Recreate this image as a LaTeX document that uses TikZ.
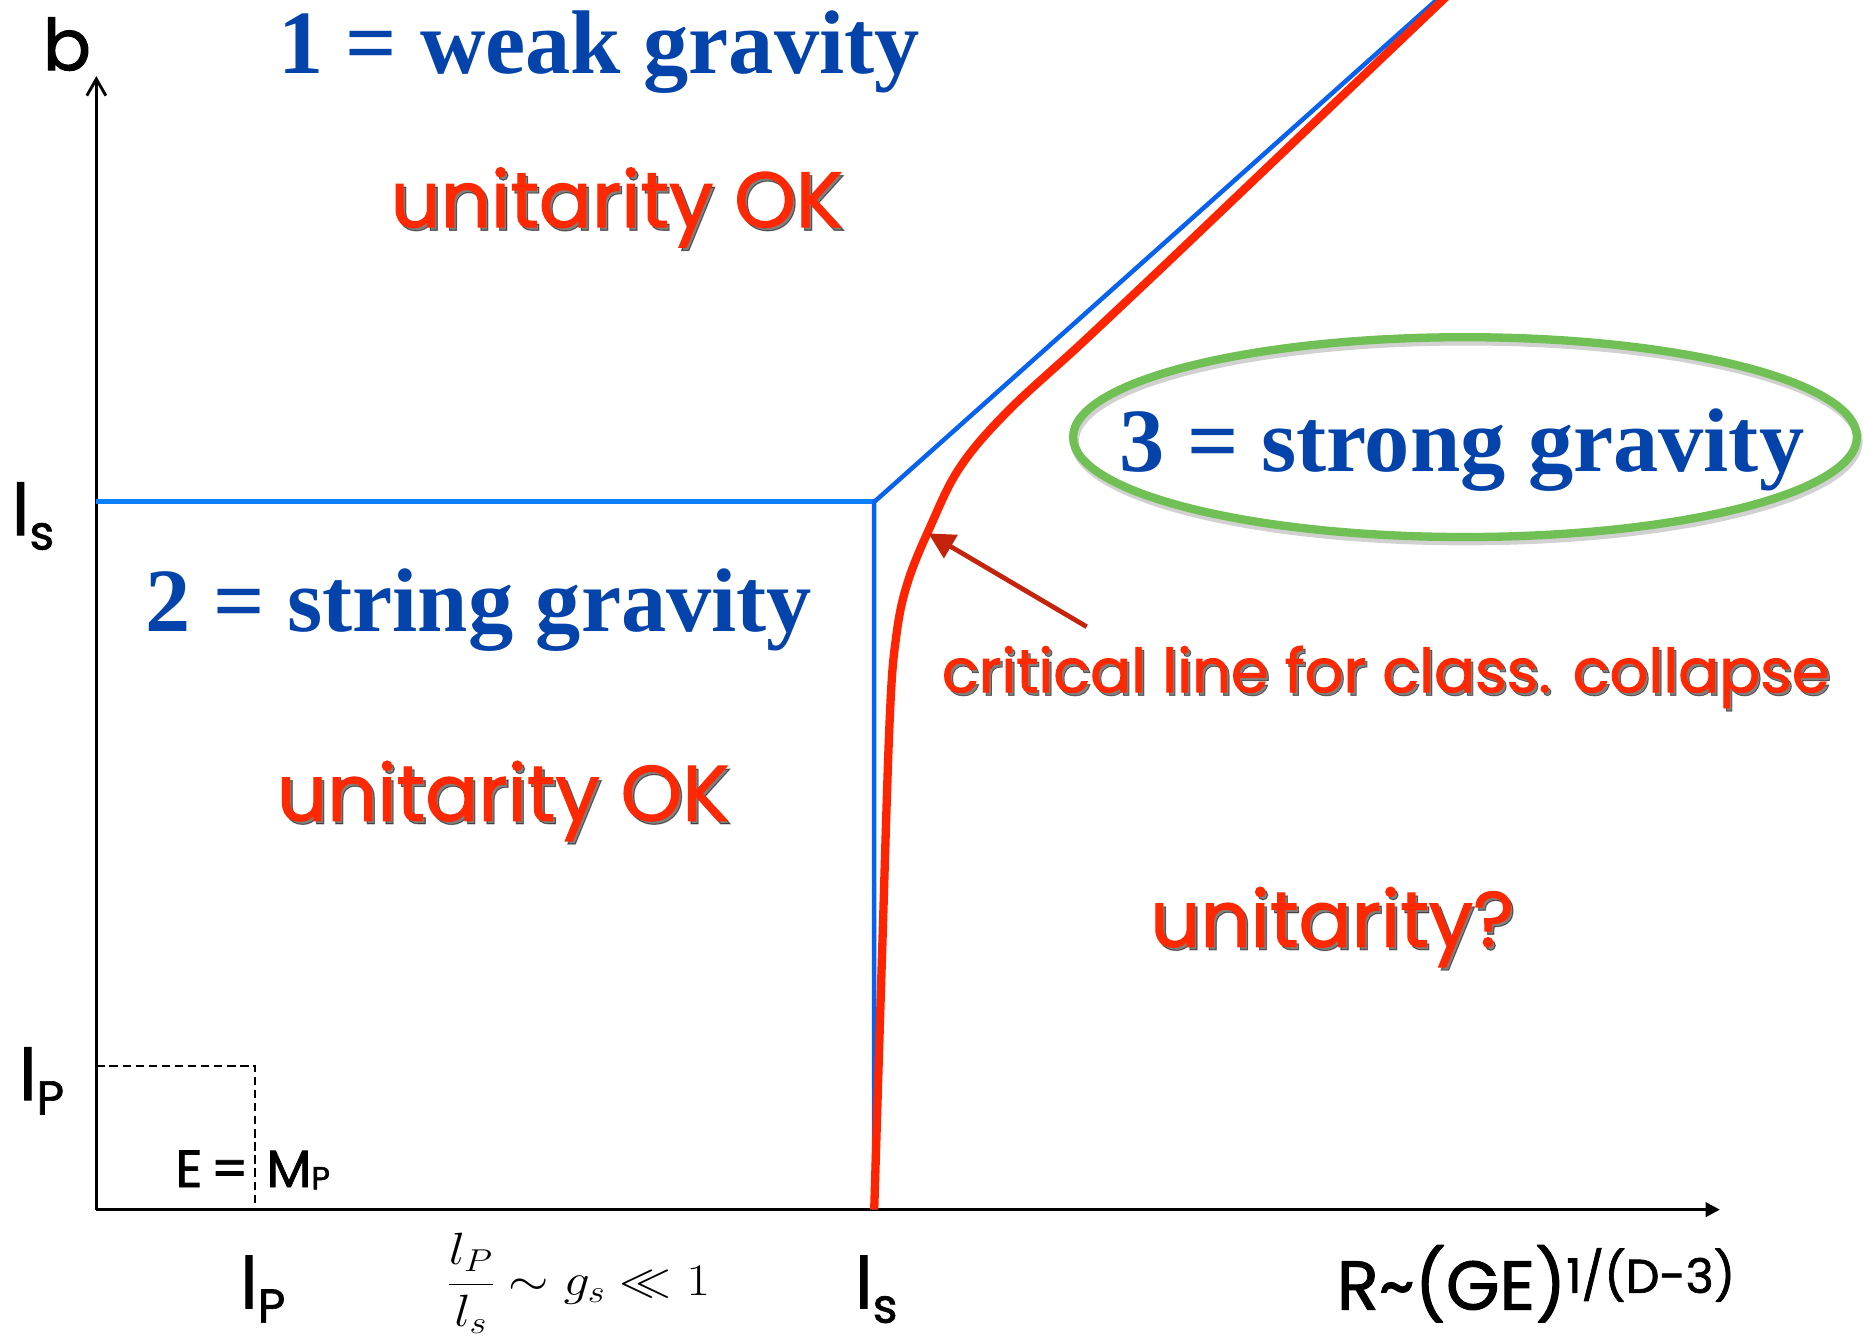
\RequirePackage{fix-cm}
\documentclass[tikz,border=0pt]{standalone}
\usepackage{fontspec}
\usepackage{graphicx}
\usetikzlibrary{arrows.meta}
\newfontfamily\comic{Poppins}[FakeBold=1.4, BoldFont=*]
\newfontfamily\tnr{Liberation Serif}
\definecolor{titleblue}{RGB}{3,67,170}
\definecolor{txtred}{RGB}{255,40,0}
\definecolor{lineblue}{RGB}{8,98,238}
\definecolor{lightblue}{RGB}{10,128,255}
\definecolor{curvered}{RGB}{255,36,0}
\definecolor{arrowred}{RGB}{196,36,12}
\definecolor{ellgreen}{RGB}{112,192,86}
\tikzset{
  every node/.style={inner sep=0pt, outer sep=0pt},
  titletxt/.style={anchor=base, text=titleblue, font=\tnr\bfseries\fontsize{76}{80}\selectfont},
  redtxt/.style={anchor=base, text=txtred, font=\comic\bfseries\fontsize{#1}{#1}\selectfont},
  shadowtxt/.style={anchor=base, text=black, opacity=0.5, font=\comic\bfseries\fontsize{#1}{#1}\selectfont},
  axlabel/.style={anchor=base west, text=black, font=\comic\bfseries\fontsize{60}{64}\selectfont},
  axisline/.style={line width=2.6pt, black},
}
\newcommand\redlabel[5]{%
  \node[shadowtxt=#4] (#1s) at (#2+2.2,#3+2.6) {#5};
  \node[redtxt=#4] (#1) at (#2,#3) {#5};}
\newcommand\subsc[1]{\raisebox{-12pt}{\fontsize{40}{40}\selectfont #1}}
\begin{document}
\begin{tikzpicture}[x=1pt,y=-1pt]
  \useasboundingbox (0,0) rectangle (1568,1129);
  \fill[white] (0,0) rectangle (1568,1129);
  \clip (0,0) rectangle (1568,1129);

  % axes
  \coordinate (O) at (81,1017);
  \coordinate (Xend) at (1446,1017);
  \coordinate (Yend) at (81,64);
  \draw[axisline, -{Triangle[length=12pt,width=12pt]}] (O) -- (Xend);
  \draw[axisline, -{Straight Barb[length=14pt,width=16pt,line width=2.4pt]}] (O) -- (Yend);

  % dashed Planck box
  \coordinate (d1) at (81,896);
  \coordinate (d2) at (214.6,896);
  \coordinate (d3) at (214.6,1017);
  \draw[black, line width=1.3pt, dash pattern=on 7pt off 4pt] (d1) -- (d2) -- (d3);

  % blue boundary lines
  \coordinate (Bc) at (735,422);
  \coordinate (Bl) at (81,422);
  \coordinate (Bb) at (735,1017);
  \coordinate (Bt) at (1219,-10);
  \draw[lightblue, line width=4.2pt] (Bl) -- (Bc);
  \draw[lineblue, line width=3.8pt, line join=miter] (Bb) -- (Bc) -- (Bt);

  % red critical curve
  \draw[curvered, line width=7pt] plot[smooth, tension=0.6] coordinates {
    (735,1017) (741.5,805) (748,605) (753.5,535) (763,490) (782,443)
    (807,393) (847,346) (910.8,287.3) (983.7,218.6)}
    -- (1223.5,-10);

  % green ellipse with shadow
  \draw[black, opacity=0.18, line width=7pt] (1233,371) ellipse [x radius=329.5, y radius=84];
  \draw[ellgreen, line width=7pt] (1231.7,367.5) ellipse [x radius=329.5, y radius=84];

  % arrow
  \coordinate (arrTail) at (913.6,526.9);
  \coordinate (arrTip) at (780.5,448.4);
  \draw[arrowred, line width=4pt, -{Triangle[length=22pt,width=22pt]}] (arrTail) -- (arrTip);

  % region titles
  \node[titletxt] (weak) at (503.5,62) {1 = weak gravity};
  \node[titletxt] (string) at (402.5,531) {2 = string gravity};
  \node[titletxt] (strong) at (1229,396.6) {3 = strong gravity};

  % red labels
  \redlabel{uok1}{518.5}{191}{66}{unitarity OK}
  \redlabel{uok2}{423}{690}{66}{unitarity OK}
  \redlabel{crit}{1165}{582}{51}{critical line for class. collapse}
  \redlabel{uq}{1120}{796}{66}{unitarity?}

  % axis labels
  \node[axlabel] (b) at (36,59) {b};
  \node[axlabel] (lsy) at (10,450) {l\subsc{s}};
  \node[axlabel] (lpy) at (16,925) {l\subsc{P}};
  \node[axlabel] (lpx) at (202,1100) {l\subsc{P}};
  \node[axlabel] (lsx) at (719,1100) {l\subsc{s}};
  \node[axlabel, font=\comic\bfseries\fontsize{58}{60}\selectfont] (Rlab) at (1124,1101)
    {R\textasciitilde(GE)\raisebox{14pt}{\fontsize{40}{40}\selectfont 1/(D-3)}};
  \node[anchor=base east, font=\comic\bfseries\fontsize{44}{48}\selectfont] (Eeq) at (209,998) {E\kern7pt=};
  \node[anchor=base west, font=\comic\bfseries\fontsize{44}{48}\selectfont] (Mp) at (224,998)
    {M\raisebox{-2pt}{\fontsize{27}{27}\selectfont P}};
  \node[anchor=base west] (ratio) at (376,1089)
    {\scalebox{1.15}[1]{\fontsize{38}{46}\selectfont$\displaystyle\frac{l_P}{l_s}\sim g_s\ll 1$}};
\end{tikzpicture}
\end{document}
